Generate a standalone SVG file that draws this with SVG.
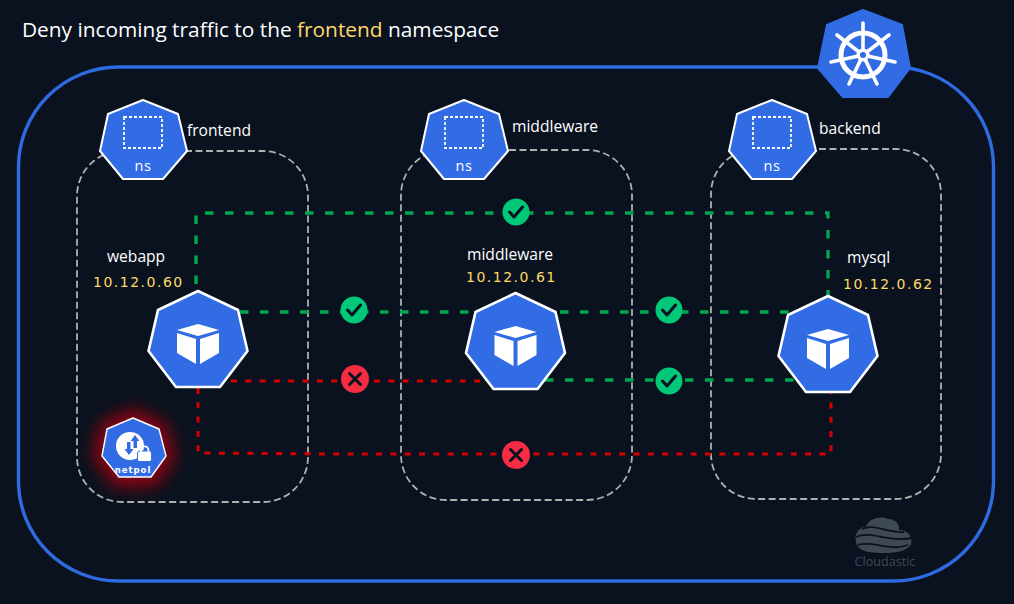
<svg xmlns="http://www.w3.org/2000/svg" width="1014" height="604" viewBox="0 0 1014 604">
<style>
.t{font-family:"Open Sans","Noto Sans",sans-serif;fill:#fff;font-size:15.6px}
.ip{font-family:"DejaVu Sans",sans-serif;fill:#ffd966;font-size:14px;letter-spacing:1.5px}
.hex{fill:#326ce5;stroke:#fff;stroke-linejoin:round}
.nsb{fill:none;stroke:#b0b0b0;stroke-width:1.800;stroke-dasharray:7 3.500}
.g{fill:none;stroke:#00a650;stroke-width:3.400;stroke-dasharray:8.5 11.5}
.r{fill:none;stroke:#d60000;stroke-width:3;stroke-dasharray:6 8.300}
.ok{fill:#00c878}.no{fill:#f42c44}
.mk{fill:none;stroke:#0a121f;stroke-width:3;stroke-linecap:round;stroke-linejoin:round}
</style>
<defs>
<filter id="glow" x="-60%" y="-60%" width="220%" height="220%"><feGaussianBlur stdDeviation="8"/></filter>
<g id="pod">
<polygon class="hex" stroke-width="2.600" points="0,-48 40,-29 49.500,12 22,48 -22,48 -49.500,12 -40,-29"/>
<path fill="#fff" d="M0,-15 L21,-9 L0,-3 L-21,-9Z M-21,-6 L-2,0 L-2,25 L-21,14Z M21,-6 L2,0 L2,25 L21,14Z"/>
</g>
<g id="nsn">
<polygon class="hex" stroke-width="2" points="0,-40 35,-26 44,11 20,39 -20,39 -43,11 -35,-26"/>
<rect x="-19" y="-23" width="38" height="31" fill="none" stroke="#fff" stroke-width="1.800" stroke-dasharray="3 2"/>
<text y="31" text-anchor="middle" style="font-family:'Open Sans','Noto Sans',sans-serif;font-size:14.5px;fill:#fff;letter-spacing:.6px">ns</text>
</g>
<g id="okm"><circle r="13.5" class="ok"/><path class="mk" d="M-6.5,0 L-2,5 L6.5,-5"/></g>
<g id="nom"><circle r="14" class="no"/><path class="mk" d="M-5.5,-5.5 L5.5,5.5 M5.5,-5.5 L-5.5,5.5"/></g>
</defs>
<rect width="1014" height="604" fill="#0a121f"/>
<text x="22" y="37" style="font-family:'Open Sans','Noto Sans',sans-serif;font-size:20.85px;fill:#fff">Deny incoming traffic to the <tspan fill="#ffd966">frontend</tspan> namespace</text>
<rect id="cluster" x="18.500" y="67" width="975" height="514" rx="100" fill="none" stroke="#2f6be0" stroke-width="3.400"/>
<g id="namespaces">
<rect class="nsb" x="77" y="151" width="231" height="351" rx="45"/>
<rect class="nsb" x="401" y="150" width="231" height="350" rx="45"/>
<rect class="nsb" x="711" y="149" width="230" height="350" rx="45"/>
</g>
<g id="connectors">
<path class="g" d="M196,284 V213 H828 V296"/>
<path class="g" d="M240,312 H790"/>
<path class="g" d="M545,380 H795"/>
<path class="r" d="M231,381 H485"/>
<path class="r" d="M198,388 V453 L330,454 H831 V392"/>
<use href="#okm" x="516" y="212"/>
<use href="#okm" x="354" y="310"/>
<use href="#okm" x="669" y="310"/>
<use href="#okm" x="669" y="381"/>
<use href="#nom" x="355" y="379"/>
<use href="#nom" x="516" y="455"/>
</g>
<g id="k8s">
<polygon fill="#326ce5" stroke="#326ce5" stroke-width="2" stroke-linejoin="round" points="863,10 902,25 910,68 888,97 843,97 818,68 827,25"/>
<g fill="none" stroke="#fff" stroke-linecap="round">
<circle cx="863" cy="55" r="22" stroke-width="5"/>
<g stroke-width="3.600">
<path d="M863,55 V23"/>
<path d="M863,55 L889,35"/>
<path d="M863,55 L895,62"/>
<path d="M863,55 L877,84"/>
<path d="M863,55 L849,84"/>
<path d="M863,55 L831,62"/>
<path d="M863,55 L837,35"/>
</g>
</g>
<circle cx="863" cy="55" r="6.500" fill="#fff"/><circle cx="863" cy="55" r="3" fill="#326ce5"/>
</g>
<g id="ns-frontend"><use href="#nsn" x="143" y="140"/><text class="t" x="187" y="136">frontend</text></g>
<g id="ns-middleware"><use href="#nsn" x="464" y="140"/><text class="t" x="512" y="132">middleware</text></g>
<g id="ns-backend"><use href="#nsn" x="772" y="140"/><text class="t" x="819" y="134">backend</text></g>
<g id="webapp"><use href="#pod" x="198" y="339"/><text class="t" x="107" y="262">webapp</text><text class="ip" x="93" y="287">10.12.0.60</text></g>
<g id="middleware"><use href="#pod" x="515.500" y="341"/><text class="t" x="467" y="260">middleware</text><text class="ip" x="466" y="282">10.12.0.61</text></g>
<g id="mysql"><use href="#pod" x="828" y="344"/><text class="t" x="847" y="263">mysql</text><text class="ip" x="843" y="289">10.12.0.62</text></g>
<g id="netpol">
<polygon fill="#a8000c" opacity=".8" filter="url(#glow)" points="133,408 166,423 176,457 156,487 114,487 92,457 100,423"/>
<polygon class="hex" stroke-width="1.400" points="133,418 159,429 166,456 151,477 119,477 102,456 107,429"/>
<circle cx="130" cy="446" r="14" fill="#fff"/>
<path fill="#326ce5" d="M135,435 L139.500,441 L137,441 L137,448 L133.500,448 L133.500,441 L130.500,441Z M129,455 L124.500,449 L127,449 L127,442 L130.500,442 L130.500,449 L133.500,449Z"/>
<rect x="137.500" y="451" width="14" height="10.500" rx="2" fill="#fff" stroke="#326ce5" stroke-width="1"/>
<path d="M141,452 V450 a3.700,3.700 0 0 1 7.400,0 V452" fill="none" stroke="#fff" stroke-width="1.800"/>
<text x="133" y="473" text-anchor="middle" style="font-family:'DejaVu Sans',sans-serif;font-size:8.500px;font-weight:bold;fill:#fff;letter-spacing:1px">netpol</text>
</g>
<g id="logo">
<path fill="#3f4956" d="M857,545 C853,535 858,527 866,527 C868,519 880,515 888,519 C897,519 900,526 899,530 C908,530 913,537 911,544 C908,551 895,553 885,553 C872,553 860,552 857,545Z"/>
<path fill="none" stroke="#0a121f" stroke-width="1.800" d="M862,529 C875,523 885,533 904,532 M856,537 C872,530 888,543 912,538 M858,545 C872,540 890,552 908,545"/>
<text x="885" y="566" text-anchor="middle" style="font-family:'Open Sans','Noto Sans',sans-serif;font-size:12.6px;fill:#3f4956">Cloudastic</text>
</g>
</svg>
